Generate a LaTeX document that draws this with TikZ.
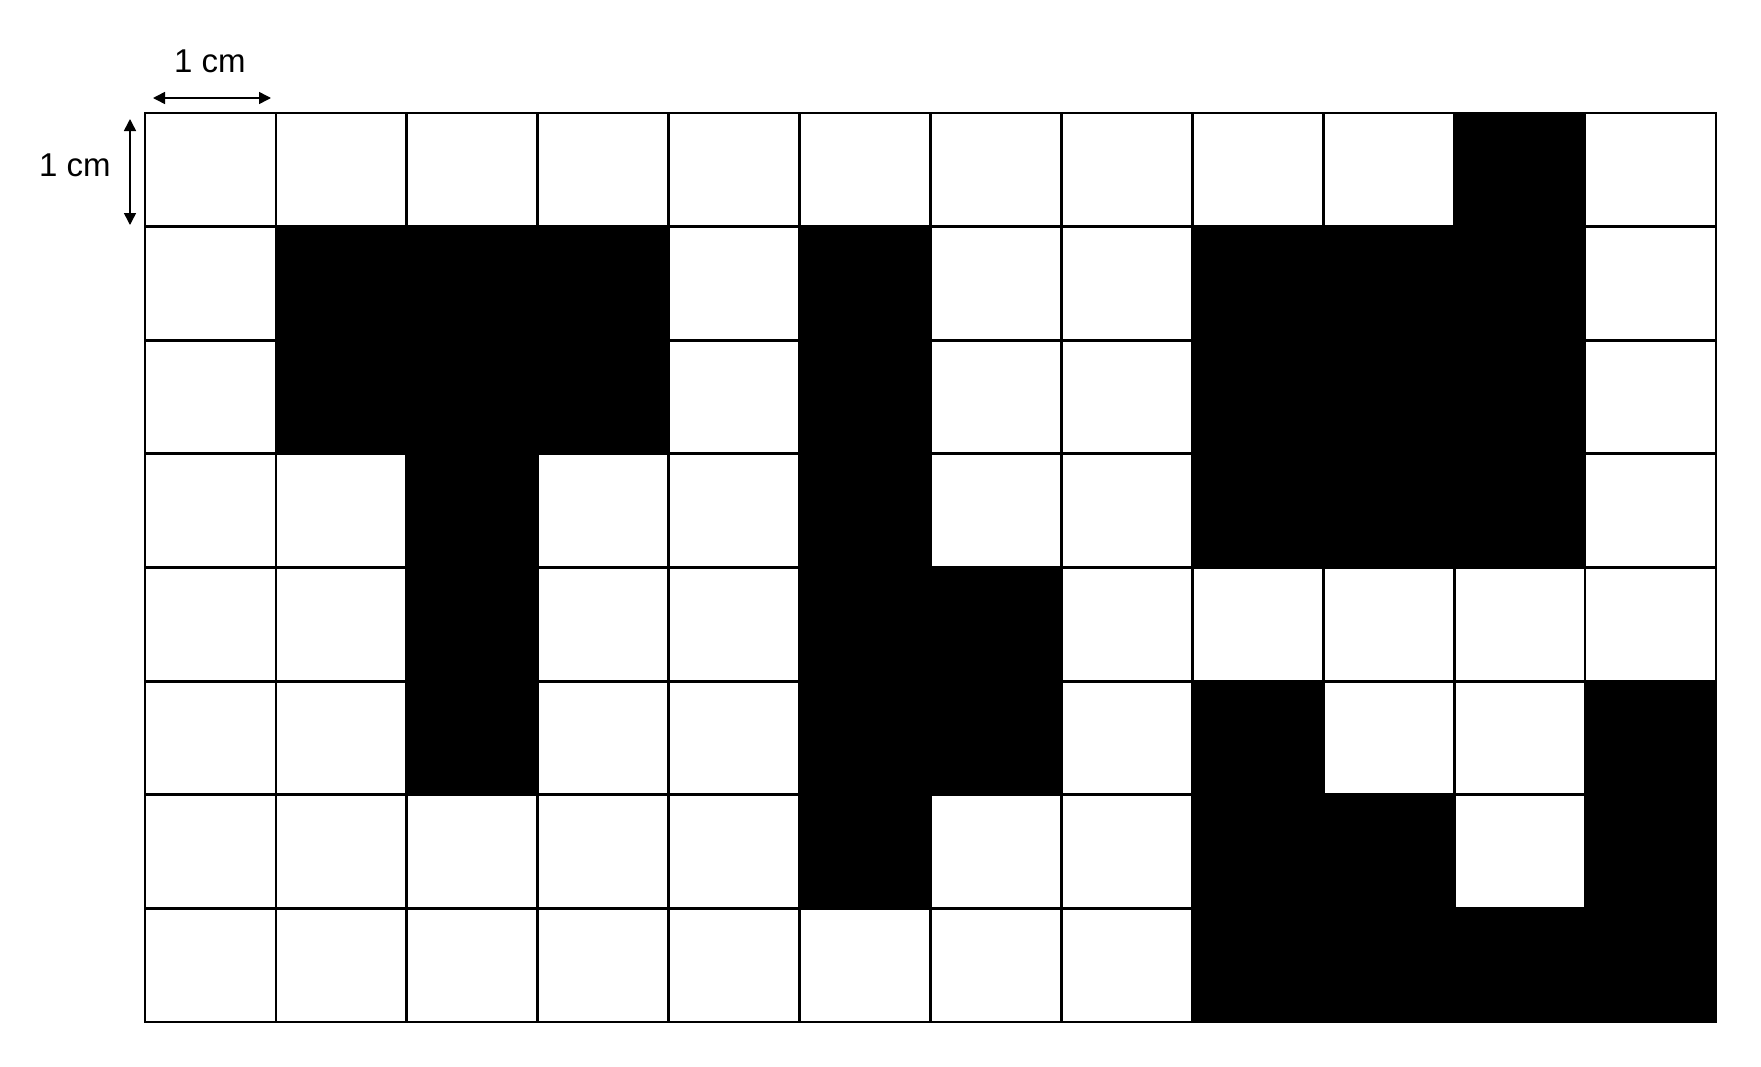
\documentclass[tikz,border=0pt]{standalone}
\usepackage{fontspec}
\setmainfont{Liberation Sans}
\usetikzlibrary{arrows.meta}
\begin{document}
\begin{tikzpicture}[x=0.5pt,y=-0.5pt,
  gridline/.style={line width=1.4pt, line cap=rect},
  dimarrow/.style={line width=0.75pt, {Triangle[length=6pt,width=6pt]}-{Triangle[length=6pt,width=6pt]}},
  dimlabel/.style={inner sep=0pt, font=\fontsize{16.5pt}{19pt}\selectfont}]
\useasboundingbox (0,0) rectangle (1761,1066);
\begin{scope}[shift={(145,113)}, x=65.458pt, y=-56.8125pt]
  \foreach \c/\r in {10/0,
    1/1,2/1,3/1,5/1,8/1,9/1,10/1,
    1/2,2/2,3/2,5/2,8/2,9/2,10/2,
    2/3,5/3,8/3,9/3,10/3,
    2/4,5/4,6/4,
    2/5,5/5,6/5,8/5,11/5,
    5/6,8/6,9/6,11/6,
    8/7,9/7,10/7,11/7}
    \fill[black] (\c,\r) rectangle ++(1,1);
  \foreach \i in {0,...,12} \draw[gridline] (\i,0) -- (\i,8);
  \foreach \j in {0,...,8} \draw[gridline] (0,\j) -- (12,\j);
\end{scope}
\node[dimlabel] (hlab) at (210,61) {1 cm};
\coordinate (ha) at (153,98);
\coordinate (hb) at (271,98);
\draw[dimarrow] (ha) -- (hb);
\node[dimlabel] (vlab) at (75,165) {1 cm};
\coordinate (va) at (130,119);
\coordinate (vb) at (130,225);
\draw[dimarrow] (va) -- (vb);
\end{tikzpicture}
\end{document}
